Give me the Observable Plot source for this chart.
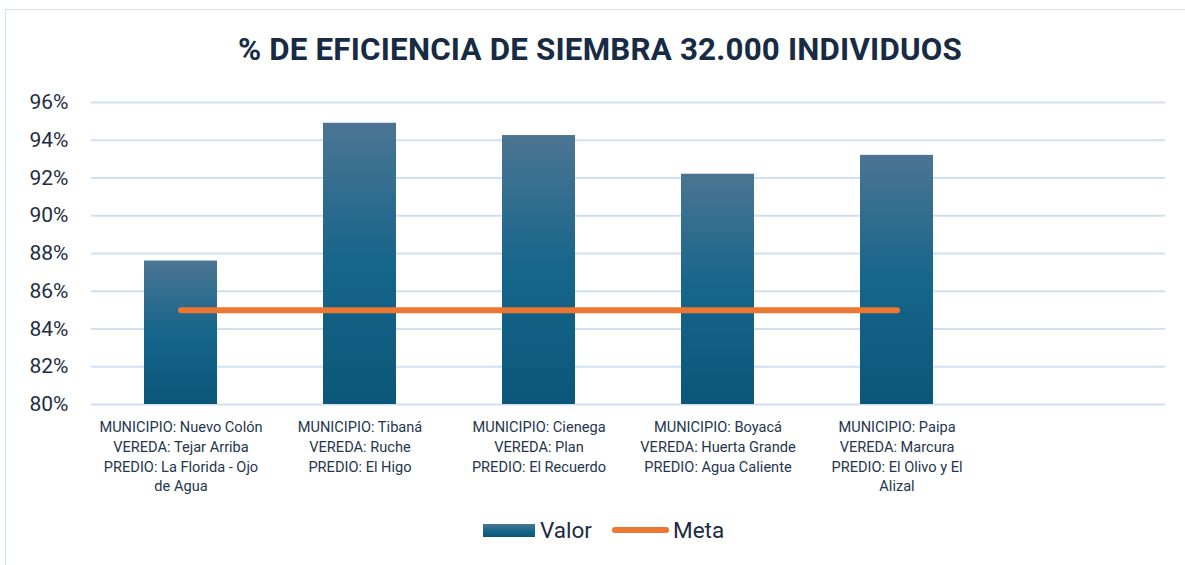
<!DOCTYPE html>
<html>
<head>
<meta charset="utf-8">
<script src="https://cdn.jsdelivr.net/npm/d3@7"></script>
<script src="https://cdn.jsdelivr.net/npm/@observablehq/plot@0.6"></script>
<style>
  html, body { margin: 0; padding: 0; background: #fff; }
  body { width: 1185px; height: 565px; overflow: hidden; position: relative; font-family: Roboto, "Liberation Sans", sans-serif; }
  #frame { position: absolute; left: 5px; top: 9px; width: 1220px; height: 620px; border: 1.5px solid #d3e1f2; box-sizing: border-box; }
  #title { position: absolute; left: 0; top: 31px; width: 1200px; text-align: center; font-size: 31.3px; font-weight: 700; color: #172b45; letter-spacing: 0.2px; }
  #chart { position: absolute; left: 0; top: 80px; }
  #legend { position: absolute; left: 483px; top: 517px; display: flex; align-items: center; font-size: 22.5px; color: #1d2b42; }
  #legend .sw { width: 52px; height: 13px; background: linear-gradient(#4b7592, #16658b 55%, #0b5779); margin-right: 5px; }
  #legend .ln { width: 57px; height: 6px; border-radius: 3px; background: #ed7631; margin-left: 20px; margin-right: 4px; }
</style>
</head>
<body>
<div id="frame"></div>
<div id="title">% DE EFICIENCIA DE SIEMBRA 32.000 INDIVIDUOS</div>
<div id="chart"></div>
<div id="legend"><div class="sw"></div><span>Valor</span><div class="ln"></div><span>Meta</span></div>
<script>
// ---- data ----
const categories = [
  "MUNICIPIO: Nuevo Colón\nVEREDA: Tejar Arriba\nPREDIO: La Florida - Ojo\nde Agua",
  "MUNICIPIO: Tibaná\nVEREDA: Ruche\nPREDIO: El Higo",
  "MUNICIPIO: Cienega\nVEREDA: Plan\nPREDIO: El Recuerdo",
  "MUNICIPIO: Boyacá\nVEREDA: Huerta Grande\nPREDIO: Agua Caliente",
  "MUNICIPIO: Paipa\nVEREDA: Marcura\nPREDIO: El Olivo y El\nAlizal",
  " "
];
const valor = [87.6, 94.9, 94.25, 92.2, 93.2];
const meta = [85, 85, 85, 85, 85];
const yTicks = [80, 82, 84, 86, 88, 90, 92, 94, 96];
const yMin = 80;

const rows = valor.map((v, i) => ({cat: categories[i], valor: v, meta: meta[i]}));

const defs = () => {
  const svgNS = "http://www.w3.org/2000/svg";
  const d = document.createElementNS(svgNS, "defs");
  d.innerHTML = `<linearGradient id="barGrad" x1="0" y1="0" x2="0" y2="1">
    <stop offset="0%" stop-color="#4b7592"/>
    <stop offset="50%" stop-color="#16658b"/>
    <stop offset="100%" stop-color="#0b5779"/>
  </linearGradient>`;
  return d;
};

const chart = Plot.plot({
  width: 1185,
  height: 424,
  marginLeft: 91,
  marginRight: 20,
  marginTop: 22,
  marginBottom: 100,
  style: {fontFamily: "Roboto, 'Liberation Sans', sans-serif", background: "transparent", overflow: "visible"},
  x: {domain: categories, paddingInner: 0.59, paddingOuter: 0.295, label: null},
  y: {domain: [yMin, 96], label: null},
  marks: [
    defs,
    Plot.ruleY(yTicks, {stroke: "#cfe0f2", strokeWidth: 2}),
    Plot.axisY({ticks: yTicks, tickSize: 0, tickPadding: 23, tickFormat: d => d + "%", fontSize: 21, fill: "#1f2d42", label: null}),
    Plot.axisX({tickSize: 0, tickPadding: 14, fontSize: 14.6, fill: "#26364d", lineHeight: 1.34, lineWidth: Infinity, label: null}),
    Plot.barY(rows, {x: "cat", y1: yMin, y2: "valor", fill: "url(#barGrad)"}),
    Plot.lineY(rows, {x: "cat", y: "meta", stroke: "#ed7631", strokeWidth: 6, strokeLinecap: "round"})
  ]
});
document.getElementById("chart").appendChild(chart);
</script>
</body>
</html>
